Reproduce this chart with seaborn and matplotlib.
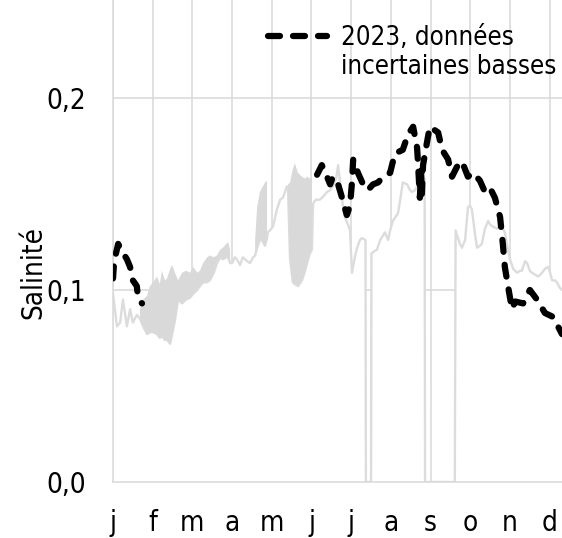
import numpy as np
import matplotlib
matplotlib.use("Agg")
import matplotlib.pyplot as plt
from matplotlib import font_manager
from matplotlib.lines import Line2D
import seaborn as sns

# month labels (x axis in month units, 0 = 1 jan)
months = ["j", "f", "m", "a", "m", "j", "j", "a", "s", "o", "n", "d"]

# historical series: light line (also lower edge of the grey band)
hist_x = [0.00, 0.10, 0.18, 0.25, 0.35, 0.43, 0.50, 0.60, 0.68, 0.76, 0.86, 0.93,
          1.01, 1.11, 1.18, 1.23, 1.31, 1.36, 1.44, 1.49, 1.56, 1.64, 1.74, 1.84,
          1.94, 2.02, 2.12, 2.19, 2.27, 2.37, 2.44, 2.54, 2.62, 2.70, 2.77, 2.85,
          2.90, 2.95, 3.00, 3.07, 3.12, 3.20, 3.27, 3.38, 3.45, 3.53, 3.58, 3.63,
          3.70, 3.75, 3.83, 3.88, 3.90, 3.95, 4.03, 4.13, 4.21, 4.28, 4.38, 4.41,
          4.46, 4.53, 4.58, 4.66, 4.76, 4.84, 4.89, 4.96, 5.01, 5.04, 5.11, 5.21,
          5.31, 5.39, 5.47, 5.54, 5.62, 5.67, 5.72, 5.79, 5.84, 5.92, 5.97, 6.02,
          6.10, 6.15, 6.22, 6.27, 6.36, 6.37, 6.50, 6.51, 6.57, 6.65, 6.73, 6.85,
          6.93, 6.98, 7.05, 7.18, 7.25, 7.30, 7.41, 7.48, 7.53, 7.61, 7.66, 7.73,
          7.78, 7.85, 7.86, 8.61, 8.63, 8.69, 8.74, 8.79, 8.87, 8.94, 8.99, 9.04,
          9.12, 9.17, 9.24, 9.29, 9.37, 9.45, 9.50, 9.57, 9.67, 9.75, 9.82, 9.87,
          9.95, 10.00, 10.08, 10.18, 10.25, 10.30, 10.38, 10.43, 10.50, 10.55,
          10.63, 10.71, 10.81, 10.88, 10.96, 11.01, 11.06, 11.13, 11.18, 11.26, 11.31]
hist_low = [0.098, 0.081, 0.083, 0.095, 0.081, 0.090, 0.083, 0.087, 0.085, 0.081, 0.077, 0.078,
            0.078, 0.077, 0.075, 0.076, 0.074, 0.074, 0.072, 0.077, 0.084, 0.095, 0.093, 0.095,
            0.096, 0.098, 0.100, 0.102, 0.104, 0.104, 0.105, 0.109, 0.114, 0.117, 0.116, 0.117,
            0.117, 0.114, 0.114, 0.117, 0.116, 0.113, 0.117, 0.115, 0.114, 0.117, 0.118, 0.122,
            0.126, 0.126, 0.123, 0.127, 0.130, 0.131, 0.133, 0.142, 0.147, 0.148, 0.154, 0.152,
            0.116, 0.104, 0.103, 0.102, 0.105, 0.110, 0.114, 0.119, 0.121, 0.145, 0.147, 0.147,
            0.149, 0.151, 0.152, 0.154, 0.158, 0.165, 0.156, 0.144, 0.138, 0.134, 0.131, 0.109,
            0.118, 0.122, 0.126, 0.127, 0.126, 0.000, 0.000, 0.119, 0.120, 0.121, 0.126, 0.130,
            0.126, 0.131, 0.136, 0.140, 0.149, 0.156, 0.155, 0.152, 0.151, 0.152, 0.154, 0.155,
            0.156, 0.158, 0.000, 0.000, 0.131, 0.127, 0.124, 0.122, 0.126, 0.143, 0.144, 0.142,
            0.129, 0.122, 0.123, 0.124, 0.132, 0.136, 0.134, 0.133, 0.132, 0.133, 0.132, 0.130,
            0.121, 0.116, 0.111, 0.109, 0.110, 0.110, 0.115, 0.114, 0.110, 0.109,
            0.108, 0.107, 0.109, 0.111, 0.112, 0.109, 0.105, 0.105, 0.104, 0.101, 0.100]
nan = np.nan
# upper edge of the grey band (only where the band exists, first 72 points)
hist_high = [nan, nan, nan, nan, nan, nan, nan, nan, 0.090, 0.095, 0.097, 0.102,
             0.104, 0.107, 0.103, 0.110, 0.105, 0.106, 0.111, 0.113, 0.109, 0.105, 0.109, 0.110,
             0.109, 0.112, 0.109, 0.110, 0.114, 0.117, 0.118, 0.117, 0.118, 0.121, 0.122, 0.124,
             0.125, 0.121, nan, nan, nan, nan, nan, nan, nan, nan, 0.126, 0.143,
             0.151, 0.153, 0.156, 0.157, nan, nan, nan, nan, nan, nan, nan, 0.155,
             0.156, 0.163, 0.166, 0.161, 0.159, 0.158, 0.159, 0.158, 0.158, nan, nan, nan]
hist_high = hist_high + [nan] * (len(hist_x) - len(hist_high))

# 2023 (uncertain, low data)
y23_jan_x = [0.00, 0.03, 0.13, 0.20, 0.35, 0.43, 0.50, 0.60, 0.63, 0.73]
y23_jan = [0.106, 0.115, 0.124, 0.121, 0.116, 0.112, 0.105, 0.102, 0.096, 0.093]
y23_x = [5.14, 5.26, 5.39, 5.47, 5.54, 5.67, 5.77, 5.89, 5.97, 6.02, 6.05, 6.17,
         6.30, 6.42, 6.55, 6.68, 6.80, 6.98, 7.10, 7.30, 7.43, 7.56, 7.66, 7.68,
         7.73, 7.76, 7.78, 7.81, 7.91, 7.98, 8.19, 8.29, 8.44, 8.54, 8.66, 8.79,
         8.94, 9.07, 9.24, 9.37, 9.50, 9.62, 9.75, 9.82, 9.87, 9.95, 10.05, 10.13,
         10.33, 10.50, 10.68, 10.88, 11.08, 11.26, 11.31]
y23 = [0.160, 0.165, 0.159, 0.155, 0.159, 0.155, 0.148, 0.139, 0.144, 0.156, 0.168, 0.161,
       0.155, 0.152, 0.155, 0.156, 0.159, 0.161, 0.171, 0.173, 0.181, 0.185, 0.174, 0.167,
       0.148, 0.162, 0.150, 0.165, 0.177, 0.185, 0.182, 0.173, 0.168, 0.159, 0.164, 0.167,
       0.159, 0.161, 0.157, 0.151, 0.153, 0.148, 0.138, 0.124, 0.112, 0.102, 0.090, 0.094,
       0.093, 0.100, 0.095, 0.088, 0.086, 0.079, 0.077]

sns.set_theme(style="white")
plt.rcParams['text.color'] = 'black'

# the original uses a narrow font; take one if installed, else a condensed one
fonts = font_manager.fontManager.ttflist
names = {f.name for f in fonts}
fsize, lsize = 22, 21
if 'Liberation Sans Narrow' in names:
    plt.rcParams['font.family'] = ['Liberation Sans Narrow', 'DejaVu Sans']
elif any(f.name == 'DejaVu Sans' and f.stretch == 'condensed' for f in fonts):
    plt.rcParams['font.family'] = ['DejaVu Sans']
    plt.rcParams['font.stretch'] = 'condensed'
    fsize, lsize = 20, 18.5
else:
    plt.rcParams['font.family'] = ['Liberation Sans', 'DejaVu Sans']
    fsize, lsize = 20, 18.5
grid_col = '#d9d9d9'

fig = plt.figure(figsize=(5.62, 5.38), dpi=100)
ax = fig.add_axes([113 / 562, 56 / 538, 449 / 562, 482 / 538])

# white area under the curves hides the grid, as in the original
ax.fill_between(hist_x, 0, hist_low, color='white', lw=0, zorder=1)
ax.fill_between(hist_x, hist_low, hist_high, color='#d9d9d9', lw=0, zorder=1.6)
sns.lineplot(x=hist_x, y=hist_low, ax=ax, color='#dcdcdc', lw=1.7,
             estimator=None, sort=False, zorder=1.5)

dash = (0, (1.92, 2.08))
sns.lineplot(x=y23_jan_x, y=y23_jan, ax=ax, color='black', lw=4.5, linestyle=dash,
             dash_capstyle='round', estimator=None, sort=False, zorder=3)
handle = ax.lines[-1]
sns.lineplot(x=y23_x, y=y23, ax=ax, color='black', lw=4.5, linestyle=dash,
             dash_capstyle='round', estimator=None, sort=False, zorder=3)

ax.set_xlim(0, 11.31)
ax.set_ylim(0, 0.251)
ax.set_xticks(range(12))
ax.set_xticklabels(months)
ax.set_yticks([0, 0.1, 0.2])
ax.set_yticklabels(['0,0', '0,1', '0,2'])
ax.tick_params(axis='x', length=0, pad=19.5, labelsize=fsize, colors='black')
ax.tick_params(axis='y', length=0, pad=19.5, labelsize=fsize, colors='black')
ax.grid(True, color=grid_col, lw=1.1, zorder=0)
ax.set_axisbelow(True)
for s in ['top', 'right']:
    ax.spines[s].set_visible(False)
for s in ['left', 'bottom']:
    ax.spines[s].set_color(grid_col)
    ax.spines[s].set_linewidth(1.1)

ax.set_xlabel('')
ax.set_ylabel('Salinité', fontsize=fsize, color='black')
ax.yaxis.set_label_coords(-0.147, 0.434)

# second legend row carries the rest of the label, with an empty key
blank = Line2D([], [], color='none')
ax.legend(handles=[handle, blank], labels=['2023, données', 'incertaines basses'],
          loc='upper left', bbox_to_anchor=(0.345, 0.948), frameon=False,
          fontsize=lsize, labelcolor='black', borderpad=0, borderaxespad=0,
          handlelength=2.3, handletextpad=0.55, labelspacing=0.1)

fig.savefig('out.png', dpi=100)
